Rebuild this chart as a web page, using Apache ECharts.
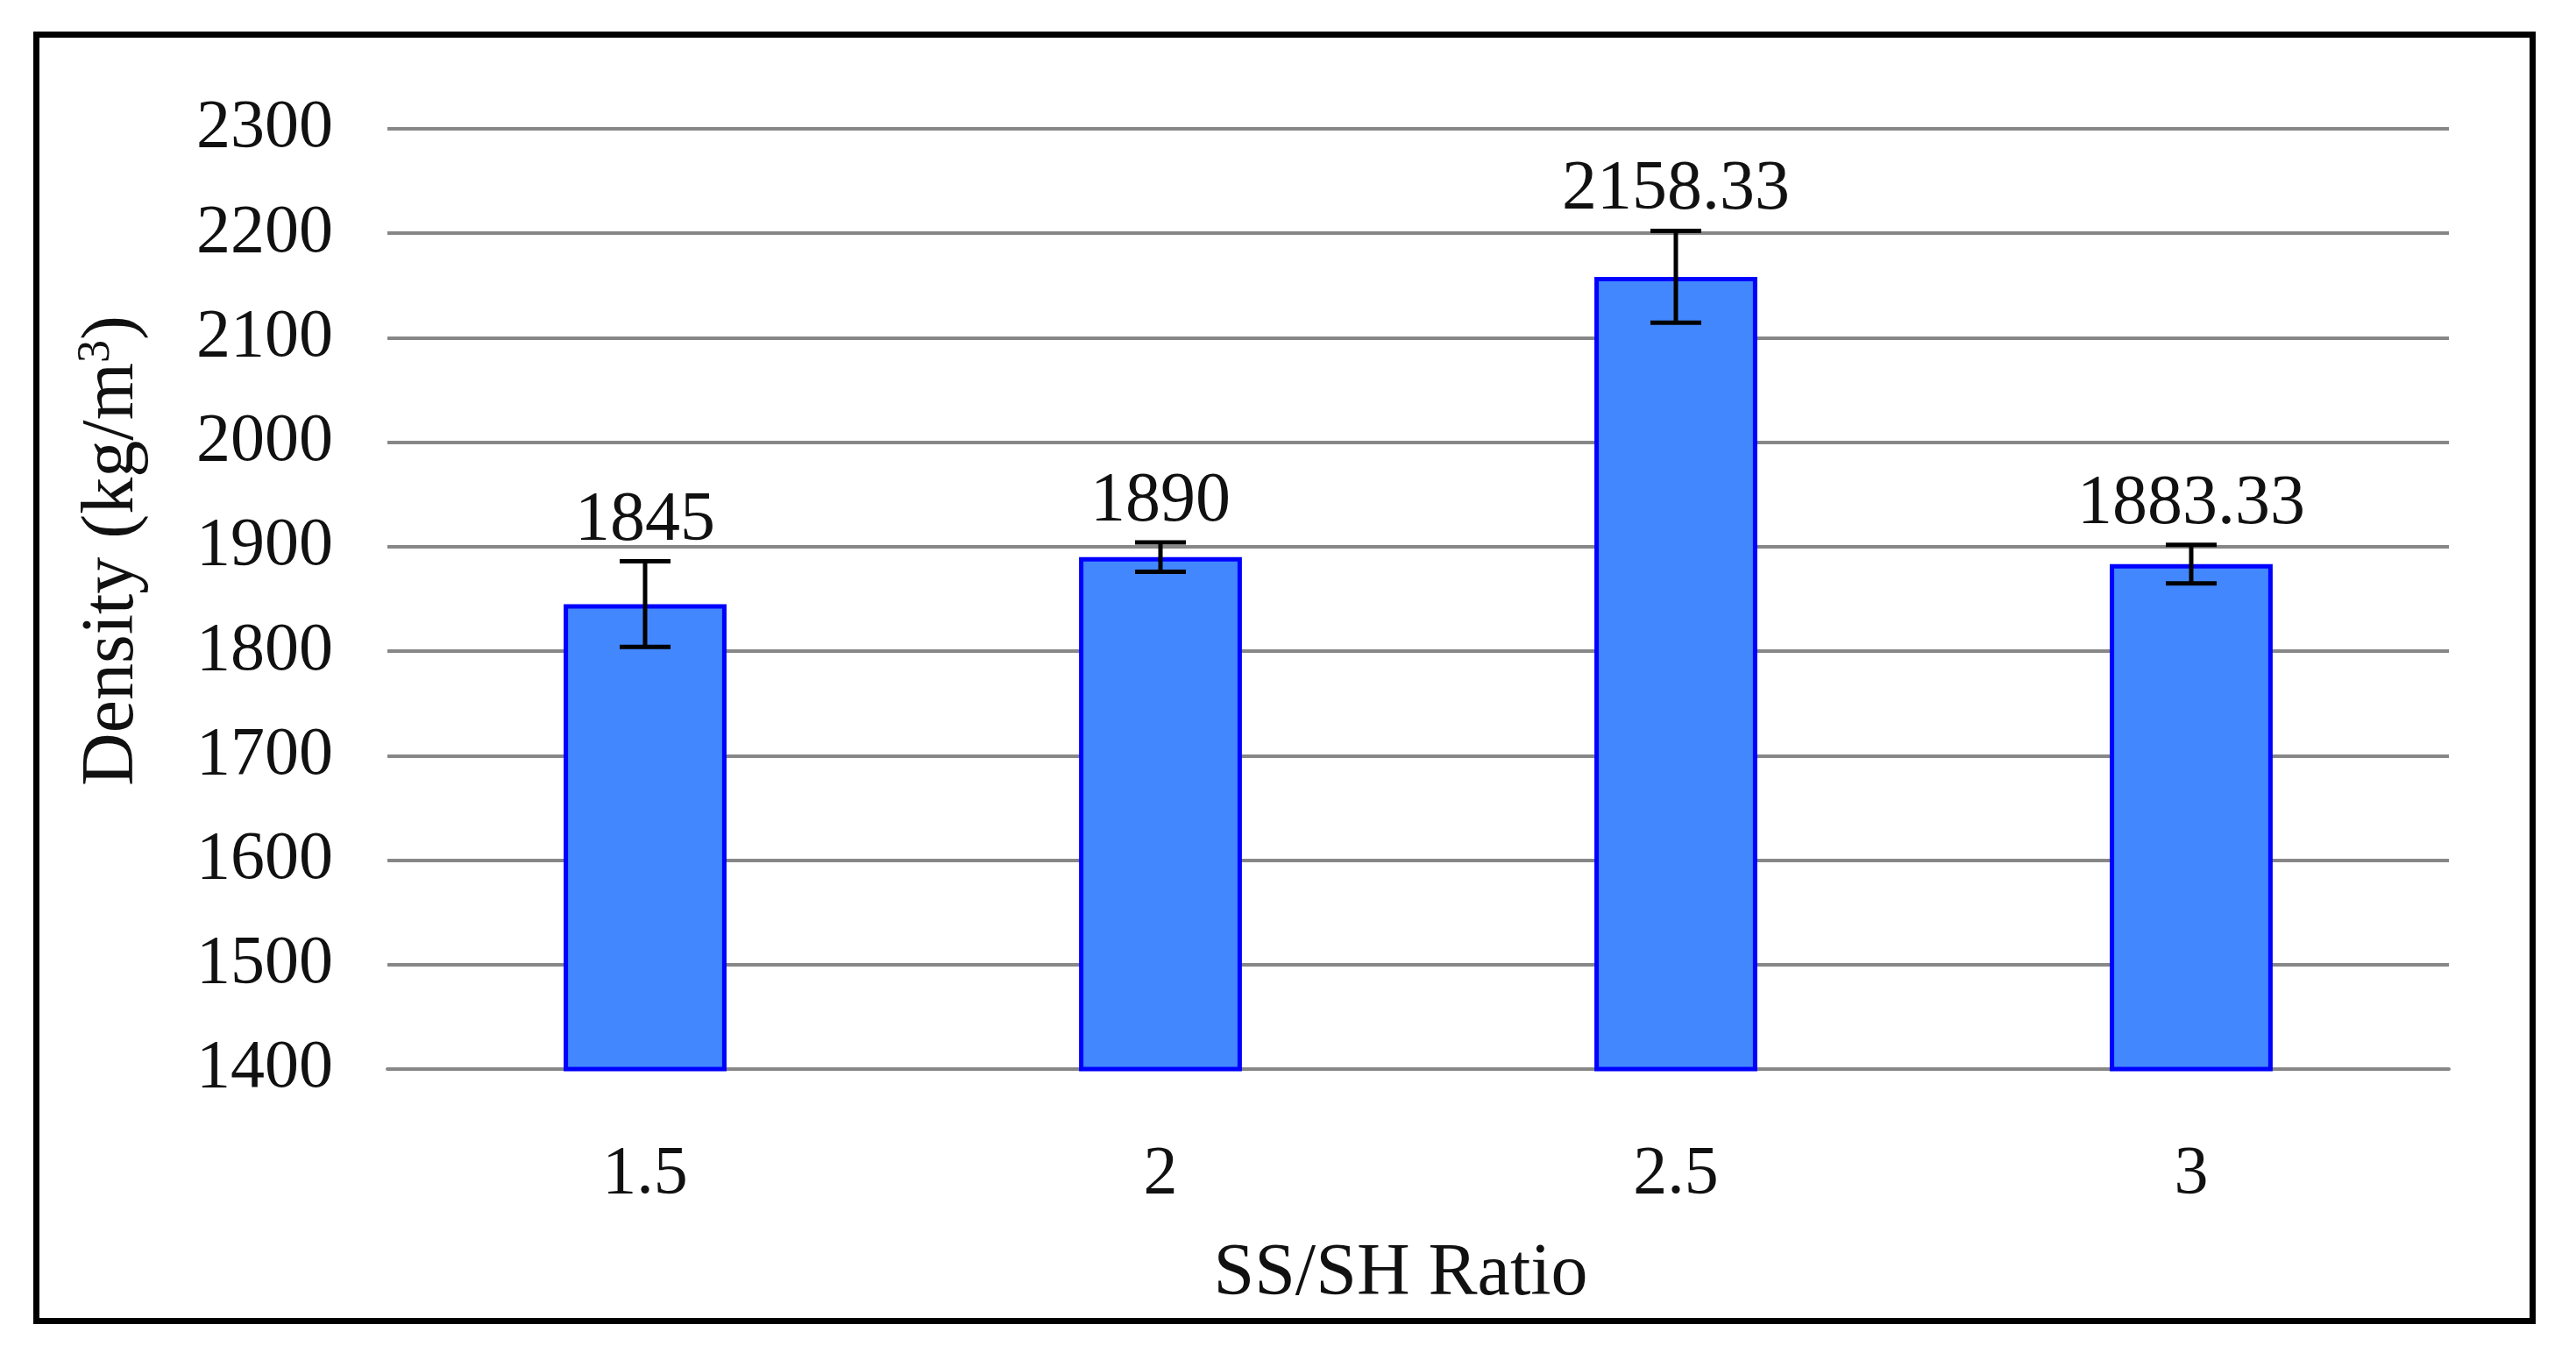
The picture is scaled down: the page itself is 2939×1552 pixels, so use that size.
<!DOCTYPE html>
<html>
<head>
<meta charset="utf-8">
<script src="https://cdn.jsdelivr.net/npm/echarts@6/dist/echarts.min.js"></script>
<style>
html,body{margin:0;padding:0;background:#fff;}
#chart{width:2939px;height:1552px;}
</style>
</head>
<body>
<div id="chart"></div>
<script>
const categories = ['1.5', '2', '2.5', '3'];
const densityValues = [1845, 1890, 2158.33, 1883.33];
const errorValues = [41, 14, 44, 18.5];
const yTicks = { min: 1400, max: 2300, interval: 100 };

const FONT = '"Liberation Serif", "DejaVu Serif", serif';
const TXT = '#111';

const chart = echarts.init(document.getElementById('chart'), null, { renderer: 'canvas' });

const errorData = densityValues.map((v, i) => [i, v, errorValues[i]]);

const option = {
  backgroundColor: '#fff',
  animation: false,
  grid: { left: 442, right: 145, top: 147, bottom: 332, containLabel: false },
  graphic: [{
    type: 'rect',
    shape: { x: 41.5, y: 39.5, width: 2848, height: 1468 },
    style: { fill: 'none', stroke: '#000', lineWidth: 7 },
    silent: true,
    z: 100
  }],
  xAxis: {
    type: 'category',
    data: categories,
    axisTick: { show: false },
    axisLine: { show: true, lineStyle: { color: '#878787', width: 4 } },
    axisLabel: { fontSize: 78, fontFamily: FONT, color: TXT, margin: 82 },
    name: 'SS/SH Ratio',
    nameLocation: 'middle',
    nameGap: 193,
    nameTextStyle: { fontSize: 84, fontFamily: FONT, color: TXT, padding: [0, 40, 0, 0] }
  },
  yAxis: {
    type: 'value',
    min: yTicks.min,
    max: yTicks.max,
    interval: yTicks.interval,
    axisLine: { show: false },
    axisTick: { show: false },
    splitLine: { show: true, lineStyle: { color: '#878787', width: 4 } },
    axisLabel: { fontSize: 78, fontFamily: FONT, color: TXT, margin: 62, formatter: function (v) { return String(v); } },
    name: '{b|Density (kg/m}{s|3}{b|)}',
    nameLocation: 'middle',
    nameGap: 268,
    nameTextStyle: {
      fontSize: 84, fontFamily: FONT, color: TXT,
      padding: [0, 0, 0, 110],
      rich: {
        b: { fontSize: 84, fontFamily: FONT, color: TXT },
        s: { fontSize: 52, fontFamily: FONT, color: TXT, padding: [0, 0, 38, 0] }
      }
    }
  },
  series: [
    {
      type: 'bar',
      data: densityValues,
      barWidth: '31.6%',
      itemStyle: { color: '#4287fd', borderColor: '#0000ff', borderWidth: 5 },
      z: 2
    },
    {
      type: 'custom',
      data: errorData,
      z: 5,
      renderItem: function (params, api) {
        const i = api.value(0);
        const m = api.value(1);
        const e = api.value(2);
        const hi = api.coord([i, m + e]);
        const lo = api.coord([i, m - e]);
        const cw = 29;
        const ls = { stroke: '#000', lineWidth: 5 };
        return {
          type: 'group',
          children: [
            { type: 'line', shape: { x1: hi[0], y1: hi[1], x2: lo[0], y2: lo[1] }, style: ls },
            { type: 'line', shape: { x1: hi[0] - cw, y1: hi[1], x2: hi[0] + cw, y2: hi[1] }, style: ls },
            { type: 'line', shape: { x1: lo[0] - cw, y1: lo[1], x2: lo[0] + cw, y2: lo[1] }, style: ls },
            {
              type: 'text',
              style: {
                text: String(densityValues[params.dataIndex]),
                x: hi[0], y: hi[1] - 6,
                align: 'center', verticalAlign: 'bottom',
                fontSize: 80, fontFamily: FONT, fill: TXT
              }
            }
          ]
        };
      }
    }
  ]
};
chart.setOption(option);
</script>
</body>
</html>
